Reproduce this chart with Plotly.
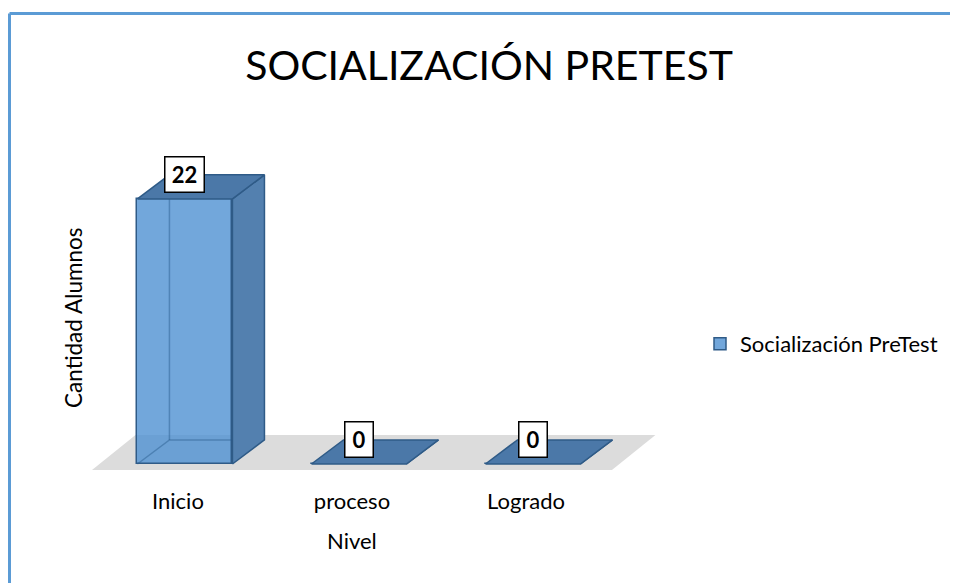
import plotly.graph_objects as go

# ---- data ----
categories = ["Inicio", "proceso", "Logrado"]
values = [22, 0, 0]
series_name = "Socialización PreTest"
chart_title = "SOCIALIZACIÓN PRETEST"
x_title = "Nivel"
y_title = "Cantidad Alumnos"

# ---- style constants ----
FONT = "Lato"
W = 0.546      # bar front width (x units)
DX = 0.184     # depth offset x (x units)
DY = 2.0       # depth offset y (value units)
EDGE = "#2F5B87"
FRONT = "rgba(79,145,210,0.80)"
SIDE = "#5380AF"
TOP = "#4B78A8"
FIG_W, FIG_H = 950, 575

xs = list(range(len(categories)))

fig = go.Figure()

# hidden (back) edges, seen through the translucent front face
hx, hy = [], []
for x, v in zip(xs, values):
    if v <= 0:
        continue
    bx, by = x - W / 2 + DX, DY
    hx += [x - W / 2, bx, x + W / 2 + DX, None, bx, bx, None]
    hy += [0, by, by, None, by, v + DY, None]
fig.add_trace(go.Scatter(x=hx, y=hy, mode="lines", line=dict(color="rgba(40,90,140,0.45)", width=1.5),
                         showlegend=False, hoverinfo="skip"))

# side faces
sx, sy = [], []
for x, v in zip(xs, values):
    r = x + W / 2
    sx += [r, r + DX, r + DX, r, r, None]
    sy += [0, DY, v + DY, v, 0, None]
fig.add_trace(go.Scatter(x=sx, y=sy, mode="lines", fill="toself", fillcolor=SIDE,
                         line=dict(color=EDGE, width=1.5), showlegend=False, hoverinfo="skip"))

# top faces
tx, ty = [], []
for x, v in zip(xs, values):
    l, r = x - W / 2, x + W / 2
    tx += [l, r, r + DX, l + DX, l, None]
    ty += [v, v, v + DY, v + DY, v, None]
fig.add_trace(go.Scatter(x=tx, y=ty, mode="lines", fill="toself", fillcolor=TOP,
                         line=dict(color=EDGE, width=1.5), showlegend=False, hoverinfo="skip"))

# front faces (legend entry)
fig.add_trace(go.Bar(x=xs, y=values, width=W, name=series_name,
                     marker=dict(color=FRONT, line=dict(color=EDGE, width=1.5)),
                     showlegend=True))

# floor
fl, fr = xs[0] - 0.534, xs[-1] + 0.454
f0, f1, fdx = -0.5, 2.4, 0.25
fig.add_shape(type="path", xref="x", yref="y", layer="below",
              path=f"M {fl},{f0} L {fr},{f0} L {fr + fdx},{f1} L {fl + fdx},{f1} Z",
              fillcolor="#DCDCDC", line=dict(width=0))

# data labels
for x, v in zip(xs, values):
    t = str(v)
    fig.add_annotation(x=x, y=v + DY, xref="x", yref="y", text=f"<b>{t}</b>", showarrow=False,
                       font=dict(family=FONT, size=22, color="black"),
                       bgcolor="white", bordercolor="black", borderwidth=1.5, borderpad=1,
                       width=11 * len(t) + 14, height=32, xanchor="center", yanchor="middle")

# axis titles
fig.add_annotation(x=-0.01, y=0.491, xref="paper", yref="paper", text=y_title, textangle=-90,
                   showarrow=False, font=dict(family=FONT, size=22.5, color="black"),
                   xanchor="center", yanchor="middle")
fig.add_annotation(x=0.453, y=-0.182, xref="paper", yref="paper", text=x_title,
                   showarrow=False, font=dict(family=FONT, size=22, color="black"),
                   xanchor="center", yanchor="middle")

# chart border
fig.add_shape(type="line", xref="paper", yref="paper", x0=-0.1175, x1=1.5, y0=1.4136, y1=1.4136,
              line=dict(color="#5B9BD5", width=3))
fig.add_shape(type="line", xref="paper", yref="paper", x0=-0.1175, x1=-0.1175, y0=-0.35, y1=1.4136,
              line=dict(color="#5B9BD5", width=3))

fig.update_layout(
    width=FIG_W, height=FIG_H,
    margin=dict(l=72, r=278, t=142, b=103),
    paper_bgcolor="white", plot_bgcolor="rgba(0,0,0,0)",
    font=dict(family=FONT, size=22, color="black"),
    title=dict(text=chart_title, x=481 / FIG_W, xanchor="center", y=1 - 58 / FIG_H, yanchor="middle",
               yref="container", font=dict(family=FONT, size=41, color="black")),
    xaxis=dict(range=[-0.603, 2.845], tickvals=[x - 0.04 for x in xs], ticktext=categories,
               showgrid=False, zeroline=False, showline=False, ticks="",
               tickfont=dict(family=FONT, size=22, color="black"), ticklabelstandoff=6,
               fixedrange=True),
    yaxis=dict(range=[-1.33, 26.06], showgrid=False, zeroline=False, showline=False,
               showticklabels=False, ticks="", fixedrange=True),
    legend=dict(x=692 / FIG_W, xref="container", xanchor="left", y=1 - 336 / FIG_H, yref="container",
                yanchor="middle", font=dict(family=FONT, size=22, color="black"),
                bgcolor="rgba(0,0,0,0)"),
    showlegend=True,
    bargap=0,
)

fig.write_html("out.html")
